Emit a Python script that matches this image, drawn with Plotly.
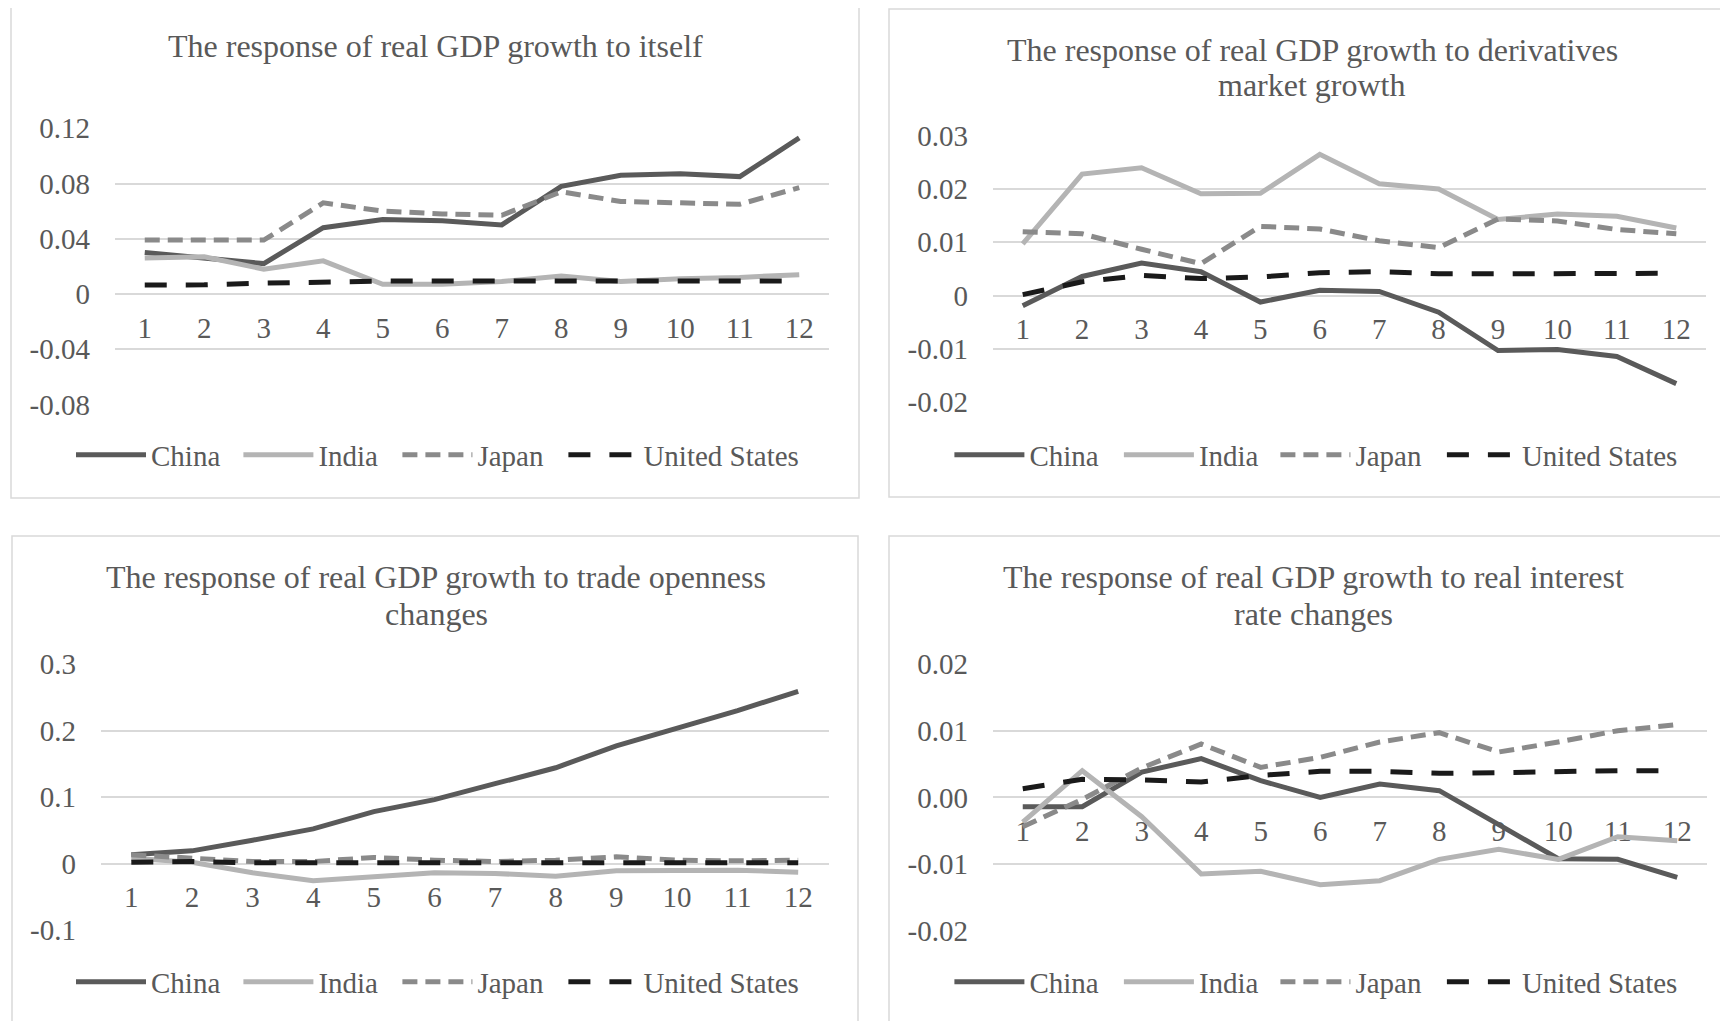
import plotly.graph_objects as go

# ---------------- data ----------------
periods = ["1", "2", "3", "4", "5", "6", "7", "8", "9", "10", "11", "12"]
series_names = ["China", "India", "Japan", "United States"]

p1_china = [0.030, 0.026, 0.022, 0.048, 0.054, 0.053, 0.050, 0.078, 0.086, 0.087, 0.085, 0.113]
p1_india = [0.026, 0.027, 0.018, 0.024, 0.007, 0.007, 0.009, 0.013, 0.009, 0.011, 0.012, 0.014]
p1_japan = [0.039, 0.039, 0.039, 0.066, 0.060, 0.058, 0.057, 0.074, 0.067, 0.066, 0.065, 0.077]
p1_us = [0.0065, 0.0066, 0.0078, 0.0088, 0.0093, 0.0093, 0.0093, 0.0094, 0.0093, 0.0094, 0.0094, 0.0094]

p2_china = [-0.0019, 0.0036, 0.0061, 0.0045, -0.0012, 0.0010, 0.0008, -0.0031, -0.0103, -0.0101, -0.0114, -0.0165]
p2_india = [0.0097, 0.0228, 0.0240, 0.0191, 0.0192, 0.0265, 0.0210, 0.0200, 0.0143, 0.0153, 0.0149, 0.0127]
p2_japan = [0.0120, 0.0116, 0.0087, 0.0060, 0.0130, 0.0125, 0.0103, 0.0090, 0.0144, 0.0140, 0.0124, 0.0116]
p2_us = [0.0002, 0.0026, 0.0038, 0.0032, 0.0035, 0.0043, 0.0045, 0.0041, 0.0041, 0.0042, 0.0043, 0.0042]

p3_china = [0.013, 0.019, 0.035, 0.052, 0.078, 0.096, 0.120, 0.144, 0.177, 0.203, 0.230, 0.259]
p3_india = [0.008, 0.002, -0.014, -0.026, -0.020, -0.014, -0.015, -0.019, -0.011, -0.010, -0.010, -0.013]
p3_japan = [0.013, 0.008, 0.003, 0.003, 0.009, 0.005, 0.003, 0.005, 0.010, 0.005, 0.004, 0.005]
p3_us = [0.002, 0.003, 0.001, 0.001, 0.001, 0.001, 0.001, 0.001, 0.001, 0.001, 0.001, 0.001]

p4_china = [-0.0014, -0.0014, 0.0038, 0.0058, 0.0025, 0.0000, 0.0020, 0.0010, -0.0041, -0.0092, -0.0093, -0.0120]
p4_india = [-0.0037, 0.0040, -0.0029, -0.0115, -0.0111, -0.0131, -0.0125, -0.0093, -0.0078, -0.0093, -0.0059, -0.0065]
p4_japan = [-0.0044, -0.0003, 0.0044, 0.0080, 0.0045, 0.0060, 0.0083, 0.0097, 0.0068, 0.0083, 0.0100, 0.0109]
p4_us = [0.0013, 0.0027, 0.0026, 0.0023, 0.0033, 0.0039, 0.0039, 0.0036, 0.0037, 0.0039, 0.0040, 0.0040]

p1_ytickvals = [-0.08, -0.04, 0, 0.04, 0.08, 0.12]
p1_yticktext = ["-0.08", "-0.04", "0", "0.04", "0.08", "0.12"]
p2_ytickvals = [-0.02, -0.01, 0, 0.01, 0.02, 0.03]
p2_yticktext = ["-0.02", "-0.01", "0", "0.01", "0.02", "0.03"]
p3_ytickvals = [-0.1, 0, 0.1, 0.2, 0.3]
p3_yticktext = ["-0.1", "0", "0.1", "0.2", "0.3"]
p4_ytickvals = [-0.02, -0.01, 0, 0.01, 0.02]
p4_yticktext = ["-0.02", "-0.01", "0.00", "0.01", "0.02"]

titles = [
    ["The response of real GDP growth to itself"],
    ["The response of real GDP growth to derivatives", "market growth"],
    ["The response of real GDP growth to trade openness", "changes"],
    ["The response of real GDP growth to real interest", "rate changes"],
]

# ---------------- styling / layout ----------------
PAGE_OFF = 8            # default page margin of the html body
W, H = 1728 - PAGE_OFF, 1021 - PAGE_OFF
FONT = "Liberation Serif, Times New Roman, serif"
TXT = "#595959"
GRID = "#d9d9d9"
LEG_SYMBOL_OFF = 5.6    # offset from legend box left edge to its line sample

styles = [
    dict(color="#5a5a5a", width=5, dash="solid"),
    dict(color="#b4b4b4", width=5, dash="solid"),
    dict(color="#8a8a8a", width=5, dash="15px,8px"),
    dict(color="#1a1a1a", width=5, dash="22px,19px"),
]

def fx(p):
    return (p - PAGE_OFF) / W

def fy(p):
    return 1 - (p - PAGE_OFF) / H

left_leg_x = [76.6, 244, 403, 569]
right_leg_x = [955, 1124.5, 1281, 1447.5]

panels = [
    dict(data=[p1_china, p1_india, p1_japan, p1_us], tv=p1_ytickvals, tt=p1_yticktext,
         xd=(115, 829), yd=(128.3, 404.4), frame=(11, 6, 859, 498), cx=435,
         title_y=[46], legend_x=left_leg_x, legend_y=455),
    dict(data=[p2_china, p2_india, p2_japan, p2_us], tv=p2_ytickvals, tt=p2_yticktext,
         xd=(993, 1706), yd=(135.7, 402.3), frame=(889, 9, 1721, 497), cx=1312,
         title_y=[50, 85], legend_x=right_leg_x, legend_y=455),
    dict(data=[p3_china, p3_india, p3_japan, p3_us], tv=p3_ytickvals, tt=p3_yticktext,
         xd=(101, 828.5), yd=(664, 930), frame=(12, 536, 858, 1040), cx=436,
         title_y=[577, 614], legend_x=left_leg_x, legend_y=982),
    dict(data=[p4_china, p4_india, p4_japan, p4_us], tv=p4_ytickvals, tt=p4_yticktext,
         xd=(993, 1707), yd=(664, 930.7), frame=(889, 536, 1721, 1040), cx=1313,
         title_y=[577, 614], legend_x=right_leg_x, legend_y=982),
]

fig = go.Figure()
layout = dict(
    width=W, height=H,
    margin=dict(l=0, r=0, t=0, b=0, autoexpand=False),
    paper_bgcolor="white", plot_bgcolor="white",
    font=dict(family=FONT, color=TXT, size=29),
    showlegend=True,
    annotations=[], shapes=[],
)

leg_count = 0
for i, pnl in enumerate(panels):
    n = i + 1
    sfx = "" if n == 1 else str(n)
    for k, (name, vals, st) in enumerate(zip(series_names, pnl["data"], styles)):
        leg_count += 1
        leg = "legend" if leg_count == 1 else f"legend{leg_count}"
        fig.add_trace(go.Scatter(
            x=periods, y=vals, name=name, mode="lines",
            line=dict(color=st["color"], width=st["width"], dash=st["dash"]),
            xaxis="x" + sfx, yaxis="y" + sfx, legend=leg, showlegend=True,
            hoverinfo="skip",
        ))
        layout[leg] = dict(
            orientation="h", x=fx(pnl["legend_x"][k] - LEG_SYMBOL_OFF), xanchor="left",
            y=fy(pnl["legend_y"]), yanchor="middle",
            font=dict(family=FONT, size=29, color=TXT),
            bgcolor="rgba(0,0,0,0)", itemwidth=70,
        )
    ymin, ymax = min(pnl["tv"]), max(pnl["tv"])
    yd0, yd1 = fy(pnl["yd"][1]), fy(pnl["yd"][0])
    zero_pos = yd0 + (0 - ymin) / (ymax - ymin) * (yd1 - yd0)
    layout["xaxis" + sfx] = dict(
        domain=[fx(pnl["xd"][0]), fx(pnl["xd"][1])],
        type="category", categoryarray=periods, range=[-0.5, 11.5],
        anchor="free", position=zero_pos, automargin=False,
        showline=True, linecolor=GRID, linewidth=1.5,
        showgrid=False, zeroline=False, ticks="",
        ticklabelstandoff=8, layer="below traces",
        tickfont=dict(family=FONT, size=29, color=TXT),
        fixedrange=True,
    )
    layout["yaxis" + sfx] = dict(
        domain=[yd0, yd1], range=[ymin, ymax],
        anchor="x" + sfx, automargin=False,
        tickvals=pnl["tv"], ticktext=pnl["tt"],
        showgrid=True, gridcolor=GRID, gridwidth=1.5,
        zeroline=False, showline=False, ticks="",
        ticklabelstandoff=24,
        tickfont=dict(family=FONT, size=29, color=TXT),
        fixedrange=True,
    )
    for line_txt, ty in zip(titles[i], pnl["title_y"]):
        layout["annotations"].append(dict(
            text=line_txt, x=fx(pnl["cx"]), y=fy(ty), xref="paper", yref="paper",
            xanchor="center", yanchor="middle", showarrow=False,
            font=dict(family=FONT, size=32, color=TXT),
        ))
    fx0, fy0, fx1, fy1 = pnl["frame"]
    layout["shapes"].append(dict(
        type="rect", xref="paper", yref="paper",
        x0=fx(fx0), x1=fx(fx1), y0=fy(fy1), y1=fy(fy0),
        line=dict(color=GRID, width=1.5), fillcolor="rgba(0,0,0,0)", layer="below",
    ))

fig.update_layout(**layout)
fig.write_html("out.html")
